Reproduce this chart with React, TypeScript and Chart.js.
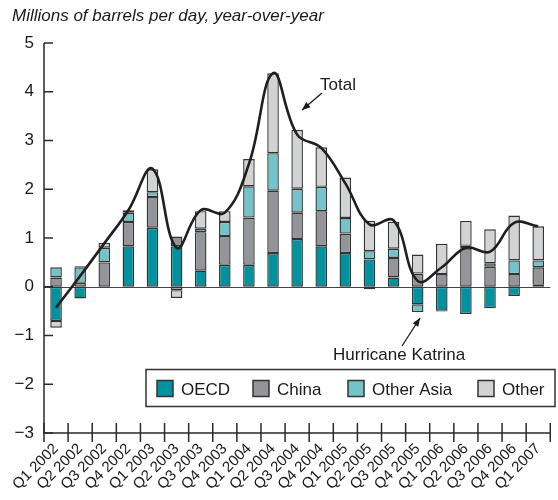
import React, { useEffect, useRef } from "react";
import { Chart, registerables } from "chart.js";

Chart.register(...registerables);

const quarters = [
  "Q1 2002", "Q2 2002", "Q3 2002", "Q4 2002",
  "Q1 2003", "Q2 2003", "Q3 2003", "Q4 2003",
  "Q1 2004", "Q2 2004", "Q3 2004", "Q4 2004",
  "Q1 2005", "Q2 2005", "Q3 2005", "Q4 2005",
  "Q1 2006", "Q2 2006", "Q3 2006", "Q4 2006",
  "Q1 2007",
];

const oecd = [-0.70, -0.24, 0.0, 0.83, 1.21, 0.83, 0.33, 0.45, 0.45, 0.69, 0.98, 0.83, 0.69, 0.56, 0.19, -0.36, -0.49, -0.56, -0.44, -0.19, 0.04];
const china = [0.19, 0.08, 0.50, 0.50, 0.63, 0.20, 0.79, 0.59, 0.97, 1.28, 0.54, 0.72, 0.40, -0.05, 0.40, 0.27, 0.26, 0.79, 0.41, 0.26, 0.36];
const otherAsia = [0.21, 0.32, 0.30, 0.19, 0.10, -0.07, 0.07, 0.29, 0.64, 0.77, 0.49, 0.50, 0.32, 0.17, 0.19, -0.16, -0.02, 0.05, 0.07, 0.28, 0.14];
const other = [-0.14, 0.02, 0.10, 0.05, 0.47, -0.16, 0.36, 0.22, 0.56, 1.64, 1.21, 0.81, 0.83, 0.62, 0.55, 0.39, 0.62, 0.51, 0.70, 0.92, 0.70];
const total = [-0.43, 0.22, 0.89, 1.57, 2.42, 0.80, 1.57, 1.52, 2.52, 4.38, 3.12, 2.85, 2.12, 1.28, 1.36, 0.12, 0.40, 0.80, 0.72, 1.31, 1.24];

const seriesNames = ["OECD", "China", "Other Asia", "Other"];
const seriesColors = ["#00939f", "#939598", "#74c3c9", "#d2d3d5"];
const yMin = -3;
const yMax = 5;
const titleText = "Millions of barrels per day, year-over-year";
const totalLabel = "Total";
const katrinaLabel = "Hurricane Katrina";

const FONT = '"Liberation Sans", Arial, Helvetica, sans-serif';
const EDGE = "#333333";

function arrow(ctx: CanvasRenderingContext2D, x1: number, y1: number, x2: number, y2: number) {
  ctx.save();
  ctx.strokeStyle = "#1a1a1a";
  ctx.fillStyle = "#1a1a1a";
  ctx.lineWidth = 1.3;
  ctx.beginPath();
  ctx.moveTo(x1, y1);
  ctx.lineTo(x2, y2);
  ctx.stroke();
  const a = Math.atan2(y2 - y1, x2 - x1);
  const len = 9;
  const w = 0.38;
  ctx.beginPath();
  ctx.moveTo(x2, y2);
  ctx.lineTo(x2 - len * Math.cos(a - w), y2 - len * Math.sin(a - w));
  ctx.lineTo(x2 - len * Math.cos(a + w), y2 - len * Math.sin(a + w));
  ctx.closePath();
  ctx.fill();
  ctx.restore();
}

const decorPlugin = {
  id: "decor",
  beforeDatasetsDraw(chart: any) {
    const { ctx, chartArea } = chart;
    const y = chart.scales.y;
    const y0 = Math.round(y.getPixelForValue(0)) + 0.5;
    ctx.save();
    ctx.strokeStyle = "#444";
    ctx.lineWidth = 1;
    ctx.beginPath();
    ctx.moveTo(chartArea.left, y0);
    ctx.lineTo(chartArea.right, y0);
    ctx.stroke();
    ctx.restore();
  },
  afterDraw(chart: any) {
    const { ctx, chartArea } = chart;
    const x = chart.scales.x;
    const y = chart.scales.y;
    ctx.save();
    ctx.strokeStyle = "#2a2a2a";
    ctx.lineWidth = 1.5;
    ctx.beginPath();
    ctx.moveTo(chartArea.left, chartArea.top);
    ctx.lineTo(chartArea.left, chartArea.bottom);
    ctx.lineTo(chartArea.right, chartArea.bottom);
    ctx.stroke();
    for (let v = yMin; v <= yMax; v++) {
      const py = y.getPixelForValue(v);
      ctx.beginPath();
      ctx.moveTo(chartArea.left, py);
      ctx.lineTo(chartArea.left + 9, py);
      ctx.stroke();
    }
    const n = quarters.length;
    const step = (chartArea.right - chartArea.left) / n;
    for (let i = 0; i <= n; i++) {
      const px = x.getPixelForValue(0) - step / 2 + i * step;
      ctx.beginPath();
      ctx.moveTo(px, chartArea.bottom - 10);
      ctx.lineTo(px, chartArea.bottom + 9);
      ctx.stroke();
    }
    ctx.fillStyle = "#1a1a1a";
    ctx.font = `italic 17px ${FONT}`;
    ctx.textAlign = "left";
    ctx.textBaseline = "alphabetic";
    ctx.fillText(titleText, 12, 21);

    ctx.fillStyle = "#ffffff";
    ctx.fillRect(146, 369.5, 409, 37);
    ctx.strokeStyle = "#333";
    ctx.lineWidth = 1.5;
    ctx.strokeRect(146, 369.5, 409, 37);
    const swX = [157, 253, 348, 478];
    ctx.font = `17px ${FONT}`;
    for (let i = 0; i < seriesNames.length; i++) {
      ctx.fillStyle = seriesColors[i];
      ctx.fillRect(swX[i], 380.5, 16, 16);
      ctx.strokeStyle = EDGE;
      ctx.lineWidth = 1.5;
      ctx.strokeRect(swX[i], 380.5, 16, 16);
      ctx.fillStyle = "#1a1a1a";
      ctx.fillText(seriesNames[i], swX[i] + 24, 395);
    }

    ctx.font = `17px ${FONT}`;
    ctx.fillStyle = "#1a1a1a";
    ctx.fillText(totalLabel, 320, 90);
    arrow(ctx, 322, 93, 302, 110);
    ctx.fillText(katrinaLabel, 333, 360);
    arrow(ctx, 402, 346, 420, 318);
    ctx.restore();
  },
};

export default function App() {
  const ref = useRef<HTMLCanvasElement | null>(null);

  useEffect(() => {
    if (!ref.current) return;
    const barSets = [oecd, china, otherAsia, other].map((d, i) => ({
      type: "bar" as const,
      label: seriesNames[i],
      data: d,
      backgroundColor: seriesColors[i],
      borderColor: EDGE,
      borderWidth: 1.4,
      borderSkipped: false,
      barPercentage: 0.48,
      categoryPercentage: 1,
      stack: "bars",
      order: 1,
    }));
    const chart = new Chart(ref.current, {
      type: "bar",
      data: {
        labels: quarters,
        datasets: [
          ...barSets,
          {
            type: "line" as const,
            label: "Total",
            data: total,
            borderColor: "#1f1f1f",
            borderWidth: 2.6,
            pointRadius: 0,
            tension: 0.4,
            fill: false,
            stack: "total",
            order: 0,
          } as any,
        ],
      },
      options: {
        responsive: false,
        animation: false,
        devicePixelRatio: 1,
        layout: { padding: { top: 43, right: 2, left: 0, bottom: 0 } },
        plugins: {
          legend: { display: false },
          tooltip: { enabled: false },
          title: { display: false },
        },
        scales: {
          x: {
            stacked: true,
            offset: true,
            grid: { display: false, drawTicks: false },
            border: { display: false },
            ticks: {
              autoSkip: false,
              minRotation: 45,
              maxRotation: 45,
              padding: 7,
              color: "#1a1a1a",
              font: { family: FONT, size: 15 },
            },
            afterFit: (s: any) => {
              s.height = 67;
            },
          },
          y: {
            stacked: true,
            min: yMin,
            max: yMax,
            grid: { display: false, drawTicks: false },
            border: { display: false },
            ticks: {
              stepSize: 1,
              padding: 10,
              color: "#1a1a1a",
              font: { family: FONT, size: 17 },
              callback: (v: any) => (Number(v) < 0 ? "\u2212" + Math.abs(Number(v)) : String(v)),
            },
            afterFit: (s: any) => {
              s.width = 44;
            },
          },
        },
      },
      plugins: [decorPlugin],
    });
    return () => chart.destroy();
  }, []);

  return (
    <div style={{ position: "absolute", left: 0, top: 0, width: 558, height: 500, background: "#fff" }}>
      <canvas ref={ref} width={558} height={500} style={{ display: "block" }} />
    </div>
  );
}
